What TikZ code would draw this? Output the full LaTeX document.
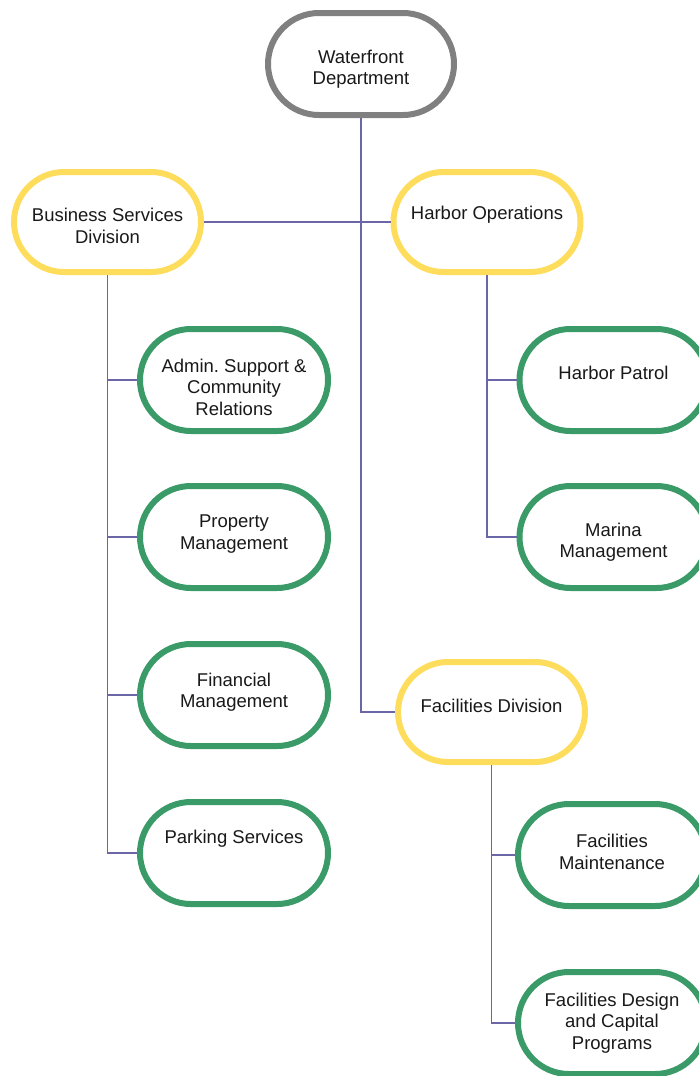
\documentclass[tikz,border=0pt]{standalone}
\usepackage{fontspec}
\setmainfont{Liberation Sans}
\usetikzlibrary{shapes.misc,calc}
\definecolor{deptgray}{HTML}{808080}
\definecolor{divyellow}{HTML}{FFDD5C}
\definecolor{unitgreen}{HTML}{3A9A68}
\definecolor{linkpurple}{HTML}{6A66A8}
\tikzset{
  pill/.style={rounded rectangle, line width=6pt, minimum width=187pt,
    minimum height=101pt, inner sep=0pt, fill=white},
  dept/.style={pill, draw=deptgray, minimum width=186pt, minimum height=102pt},
  division/.style={pill, draw=divyellow, minimum height=100pt},
  unit/.style={pill, draw=unitgreen, minimum width=188pt, minimum height=102pt},
  boxtext/.style={align=center, inner sep=0pt, text=black!90,
    font=\fontsize{18.5}{21.5}\selectfont\frenchspacing},
  link/.style={draw=linkpurple, line width=1.9pt},
}
\begin{document}
\begin{tikzpicture}[x=1pt,y=-1pt]
\useasboundingbox (0,0) rectangle (699,1076);
\clip (0,0) rectangle (699,1076);
\fill[white] (0,0) rectangle (699,1076);

% boxes
\node[dept]     (wd)     at (361,64)   {};
\node[division] (bsd)    at (107.5,222) {};
\node[division] (ho)     at (487,222)  {};
\node[division] (fd)     at (491.5,712) {};
\node[unit]     (admin)  at (234,380)  {};
\node[unit]     (prop)   at (234,537)  {};
\node[unit]     (fin)    at (234,695)  {};
\node[unit]     (park)   at (234,853)  {};
\node[unit]     (hp)     at (613.5,380) {};
\node[unit]     (marina) at (613.5,537) {};
\node[unit]     (fm)     at (612,855)  {};
\node[unit]     (fdc)    at (612,1023) {};

% box captions
\node[boxtext] (wdT)     at (361,69)    {Waterfront\\Department};
\node[boxtext] (bsdT)    at (107.5,226) {Business Services\\Division};
\node[boxtext] (hoT)     at (487,215)   {Harbor Operations};
\node[boxtext] (fdT)     at (491.5,706) {Facilities Division};
\node[boxtext] (adminT)  at (234,387)   {Admin. Support \&\\Community\\Relations};
\node[boxtext] (propT)   at (234,534)   {Property\\Management};
\node[boxtext] (finT)    at (234,692)   {Financial\\Management};
\node[boxtext] (parkT)   at (234,839)   {Parking Services};
\node[boxtext] (hpT)     at (613.5,373) {Harbor Patrol};
\node[boxtext] (marinaT) at (613.5,542) {Marina\\Management};
\node[boxtext] (fmT)     at (612,852)   {Facilities\\Maintenance};
\node[boxtext] (fdcT)    at (612,1023)  {Facilities Design\\and Capital\\Programs};

% connectors
\draw[link] (wd.south) |- (fd.west);
\draw[link] (bsd.east) -- (ho.west);
\draw[link] (bsd.south) |- (admin.west);
\draw[link] (bsd.south) |- (prop.west);
\draw[link] (bsd.south) |- (fin.west);
\draw[link] (bsd.south) |- (park.west);
\draw[link] (ho.south) |- (hp.west);
\draw[link] (ho.south) |- (marina.west);
\draw[link] (fd.south) |- (fm.west);
\draw[link] (fd.south) |- (fdc.west);
\end{tikzpicture}
\end{document}
